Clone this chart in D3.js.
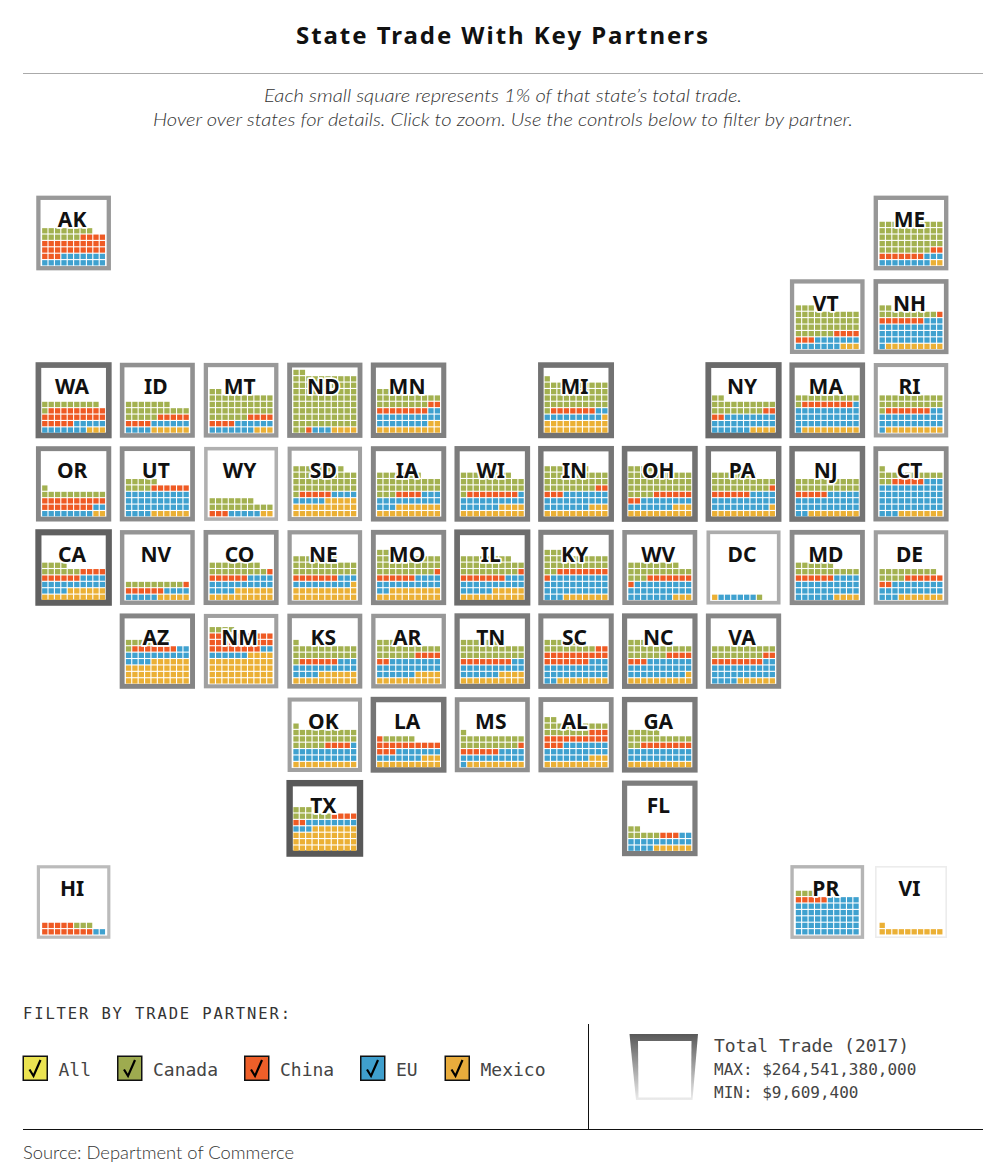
<!DOCTYPE html>
<html><head><meta charset="utf-8">
<script src="https://cdn.jsdelivr.net/npm/d3@7/dist/d3.min.js"></script>
<style>html,body{margin:0;padding:0;background:#fff}svg{display:block}</style>
</head><body><svg id="c" width="1000" height="1175"></svg>
<script>
const tileGrid = [
  "AK . . . . . . . . . ME",
  ". . . . . . . . . VT NH",
  "WA ID MT ND MN . MI . NY MA RI",
  "OR UT WY SD IA WI IN OH PA NJ CT",
  "CA NV CO NE MO IL KY WV DC MD DE",
  ". AZ NM KS AR TN SC NC VA . .",
  ". . . OK LA MS AL GA . . .",
  ". . . TX . . . FL . . .",
  "HI . . . . . . . . PR VI"
];
const states = ["AK","ME","VT","NH","WA","ID","MT","ND","MN","MI","NY","MA","RI","OR","UT","WY","SD","IA","WI","IN","OH","PA","NJ","CT","CA","NV","CO","NE","MO","IL","KY","WV","DC","MD","DE","AZ","NM","KS","AR","TN","SC","NC","VA","OK","LA","MS","AL","GA","TX","FL","HI","PR","VI"];
const canada = [14,48,39,11,10,22,38,84,20,42,20,11,21,11,9,17,39,30,29,35,41,26,20,13,10,9,17,27,31,27,25,21,1,16,13,8,4,22,19,27,14,19,18,26,5,20,19,17,9,7,3,3,0];
const china  = [27,9,7,8,24,9,8,1,10,7,4,8,7,18,6,3,5,4,8,5,8,7,5,5,10,7,7,7,7,8,9,8,0,6,8,7,28,6,6,8,19,7,10,4,14,7,16,8,6,3,13,5,0];
const eu     = [17,11,14,34,12,10,13,3,20,11,24,32,23,10,34,5,9,16,17,24,15,23,27,46,18,9,18,12,16,18,32,26,6,30,21,16,8,17,24,18,25,26,26,21,14,15,24,20,11,16,2,55,0];
const mexico = [0,2,3,9,3,6,3,4,12,21,4,9,9,2,6,2,25,17,14,13,13,11,8,7,16,5,16,21,18,15,7,3,1,4,7,36,44,16,14,14,8,11,6,10,13,9,13,10,37,6,0,0,11];
// estimated total trade, billions of dollars
const totalTrade = [3.0,3.4,3.0,5.9,58,5.5,3.0,9.6,16.7,44,76.5,25.3,1.83,11,7.8,0.605,1.83,11.8,22,33.4,44,35.8,38,8.4,153,3.9,6.35,2.8,9.6,62,16.7,5.5,0.8,8.4,2,11.8,1.83,5.2,3.2,23.6,14.6,19.2,10.3,1.83,35.8,5.9,8.4,25.3,264.5,20.6,0.28,0.43,0.0096];
const partnerNames = ["Mexico","EU","China","Canada"];
const legendItems = ["All","Canada","China","EU","Mexico"];
const legendColors = {All:"#ebe351",Canada:"#9eab4f",China:"#ee5f29",EU:"#3f9fcd",Mexico:"#e9ac3c"};
const cellColors = {Canada:"#a3b150",China:"#ef5a24",EU:"#3fa1cf",Mexico:"#ebb035"};

const svg = d3.select("#c");
const sans = "'Noto Sans',sans-serif", light = "Lato,sans-serif", mono = "'DejaVu Sans Mono',monospace";

const colX = d3.scalePoint().domain(d3.range(11)).range([73.6,911]);
const rowY = d3.scalePoint().domain(d3.range(9)).range([233,902]);
const cellX = d3.scaleBand().domain(d3.range(10)).range([-32,32]);
const cellY = d3.scaleBand().domain(d3.range(10)).range([33,-31]);
const tradeScale = d3.scaleLog().domain([0.0096,264.5]);
const grey = tradeScale.copy().range([236,88]);
const strokeW = tradeScale.copy().range([1.6,6.4]);

const position = {};
tileGrid.forEach((line,r)=>line.split(" ").forEach((s,c)=>{ if(s!==".") position[s]={r,c}; }));

const tiles = states.map((s,i)=>{
  const vals=[mexico[i],eu[i],china[i],canada[i]];
  const n=d3.sum(vals), full=Math.floor(n/10)*10, cells=[];
  let k=0;
  vals.forEach((v,p)=>{ for(let j=0;j<v;j++,k++){
    cells.push({p:partnerNames[p],row:Math.floor(k/10),col:k>=full?k%10:9-k%10});
  }});
  return {s,trade:totalTrade[i],cells,...position[s]};
});

// title
svg.append("text").attr("x",502).attr("y",44).attr("text-anchor","middle")
  .attr("textLength",412).attr("lengthAdjust","spacing")
  .style("font",`700 24px ${sans}`).attr("fill","#111").text("State Trade With Key Partners");
svg.append("line").attr("x1",23).attr("x2",983).attr("y1",73.5).attr("y2",73.5).attr("stroke","#aaa");
[["Each small square represents 1% of that state’s total trade.",102,478],
 ["Hover over states for details. Click to zoom. Use the controls below to filter by partner.",126,700]]
 .forEach(([t,y,w])=>svg.append("text").attr("x",503).attr("y",y).attr("text-anchor","middle")
   .attr("textLength",w).attr("lengthAdjust","spacingAndGlyphs")
   .style("font",`italic 300 18px ${light}`).attr("fill","#333").text(t));

// tiles
const g = svg.append("g").selectAll("g").data(tiles).join("g")
  .attr("transform",d=>`translate(${colX(d.c)},${rowY(d.r)})`);
g.append("rect").attr("x",-35.2).attr("y",-35.2).attr("width",70.4).attr("height",70.4)
  .attr("fill","#fff")
  .attr("stroke",d=>{const v=Math.round(grey(d.trade));return d3.rgb(v,v,v);})
  .attr("stroke-width",d=>strokeW(d.trade));
g.selectAll(".cell").data(d=>d.cells).join("rect").attr("class","cell")
  .attr("x",d=>cellX(d.col)+0.55).attr("y",d=>cellY(d.row)+0.55)
  .attr("width",cellX.bandwidth()-1.1).attr("height",cellY.bandwidth()-1.1)
  .attr("fill",d=>cellColors[d.p]);
g.append("text").attr("x",-1.5).attr("y",-5.8).attr("text-anchor","middle")
  .style("font",`700 21px ${sans}`).attr("fill","#111")
  .attr("stroke","#fff").attr("stroke-width",3.5).attr("stroke-linejoin","round")
  .style("paint-order","stroke").text(d=>d.s);

// filter
svg.append("text").attr("x",23).attr("y",1019).attr("textLength",267).attr("lengthAdjust","spacing")
  .style("font",`15.5px ${mono}`).attr("fill","#333").text("FILTER BY TRADE PARTNER:");
const boxX = d3.scaleOrdinal().domain(legendItems).range([22.5,117,244,360,444.5]);
const leg = svg.append("g").selectAll("g").data(legendItems).join("g")
  .attr("transform",d=>`translate(${boxX(d)},1055.5)`);
leg.append("rect").attr("x",.75).attr("y",.75).attr("width",24).attr("height",24)
  .attr("fill",d=>legendColors[d]).attr("stroke","#111").attr("stroke-width",1.5);
leg.append("path").attr("d","M7 14 L11 20.5 L18 4.5").attr("fill","none").attr("stroke","#000").attr("stroke-width",2.2);
leg.append("text").attr("x",36).attr("y",20).style("font",`18px ${mono}`).attr("fill","#444").text(d=>d);

svg.append("line").attr("x1",588.5).attr("x2",588.5).attr("y1",1024).attr("y2",1130).attr("stroke","#111");
svg.append("line").attr("x1",23).attr("x2",983).attr("y1",1129.5).attr("y2",1129.5).attr("stroke","#111");

// size legend
const defs = svg.append("defs").append("linearGradient").attr("id","gr").attr("x1",0).attr("x2",0).attr("y1",0).attr("y2",1);
defs.append("stop").attr("offset",0).attr("stop-color",d3.rgb(grey(264.5),grey(264.5),grey(264.5)));
defs.append("stop").attr("offset",1).attr("stop-color",d3.rgb(grey(0.0096),grey(0.0096),grey(0.0096)));
svg.append("path").attr("d","M629.5 1034 L698 1034 L692.5 1100 L636 1100 Z").attr("fill","url(#gr)");
svg.append("path").attr("d","M638 1041 L691.5 1041 L691 1097.5 L638.5 1097.5 Z").attr("fill","#fff");
svg.append("text").attr("x",714).attr("y",1052).style("font",`18px ${mono}`).attr("fill","#444").text("Total Trade (2017)");
svg.append("text").attr("x",714).attr("y",1075).style("font",`16px ${mono}`).attr("fill","#444").text("MAX: $264,541,380,000");
svg.append("text").attr("x",714).attr("y",1098).style("font",`16px ${mono}`).attr("fill","#444").text("MIN: $9,609,400");

svg.append("text").attr("x",23).attr("y",1159).attr("textLength",271).attr("lengthAdjust","spacingAndGlyphs")
  .style("font",`300 18px ${light}`).attr("fill","#333").text("Source: Department of Commerce");
</script></body></html>
